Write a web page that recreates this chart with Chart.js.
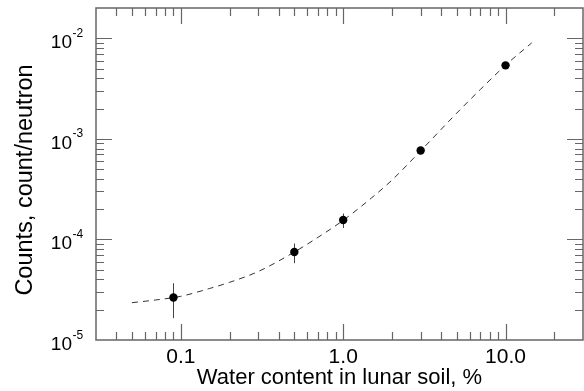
<!DOCTYPE html>
<html>
<head>
<meta charset="utf-8">
<script src="https://cdn.jsdelivr.net/npm/chart.js@4/dist/chart.umd.min.js"></script>
<style>
  html, body { margin: 0; padding: 0; background: #fff; }
  #wrap { width: 584px; height: 391px; }
</style>
</head>
<body>
<div id="wrap"><canvas id="chart"></canvas></div>
<script>
// measured points (water %, counts/neutron) with error bars
const measX = [0.09, 0.5, 1.0, 3.0, 10.0];
const measY = [2.65e-5, 7.5e-5, 1.56e-4, 7.65e-4, 5.38e-3];
const errLow = [1.65e-5, 5.8e-5, 1.3e-4, null, null];
const errHigh = [3.67e-5, 9.1e-5, 1.81e-4, null, null];

// dashed model curve
const fitX = [0.05, 0.07, 0.1, 0.15, 0.2, 0.3, 0.5, 0.7, 1.0, 1.5, 2.0, 3.0, 5.0, 7.0, 10.0, 14.5];
const fitY = [2.35e-5, 2.5e-5, 2.72e-5, 3.25e-5, 3.75e-5, 4.8e-5, 7.5e-5, 1.05e-4, 1.55e-4, 2.6e-4, 3.9e-4, 7.6e-4, 1.8e-3, 3.1e-3, 5.4e-3, 9.0e-3];

const xTickValues = [0.1, 1, 10];
const xTickLabels = ['0.1', '1.0', '10.0'];
const yTickExps = [-5, -4, -3, -2];
const yTitle = 'Counts, count/neutron';

const FONT = '"Liberation Sans", Arial, Helvetica, sans-serif';
const FRAME = '#666';

function decadeTicks(min, max) {
  const major = [], minor = [];
  for (let d = Math.floor(Math.log10(min)); d <= Math.ceil(Math.log10(max)); d++) {
    for (let k = 1; k <= 9; k++) {
      const v = k * Math.pow(10, d);
      if (v <= min * 1.0001 || v >= max * 0.9999) continue;
      (k === 1 ? major : minor).push(v);
    }
  }
  return { major, minor };
}

// box + inward ticks on all four sides, tick labels
const frame = {
  id: 'frame',
  afterDraw(chart) {
    const { ctx, chartArea: a, scales: { x, y } } = chart;
    ctx.save();
    ctx.strokeStyle = FRAME;
    ctx.lineWidth = 1.5;
    ctx.strokeRect(a.left, a.top, a.right - a.left, a.bottom - a.top);
    ctx.lineWidth = 1.2;
    ctx.beginPath();
    const xt = decadeTicks(x.min, x.max);
    const tickX = (vals, len) => vals.forEach(v => {
      const px = Math.round(x.getPixelForValue(v)) + 0.5;
      ctx.moveTo(px, a.bottom); ctx.lineTo(px, a.bottom - len);
      ctx.moveTo(px, a.top); ctx.lineTo(px, a.top + len);
    });
    tickX(xt.major, 16); tickX(xt.minor, 8);
    const yt = decadeTicks(y.min, y.max);
    const tickY = (vals, len) => vals.forEach(v => {
      const py = Math.round(y.getPixelForValue(v)) + 0.5;
      ctx.moveTo(a.left, py); ctx.lineTo(a.left + len, py);
      ctx.moveTo(a.right, py); ctx.lineTo(a.right - len, py);
    });
    tickY(yt.major, 16); tickY(yt.minor, 8);
    ctx.stroke();

    ctx.fillStyle = '#000';
    // y tick labels: 10 with superscript exponent
    yTickExps.forEach(e => {
      const py = y.getPixelForValue(Math.pow(10, e));
      ctx.font = '19px ' + FONT;
      ctx.textAlign = 'right';
      ctx.textBaseline = 'alphabetic';
      ctx.fillText('10', 72, py + 10);
      ctx.font = '12px ' + FONT;
      ctx.textAlign = 'left';
      ctx.fillText('-' + Math.abs(e), 72.5, py - 1.5);
    });
    // x tick labels
    ctx.font = '21px ' + FONT;
    ctx.textAlign = 'center';
    xTickValues.forEach((v, i) => {
      ctx.fillText(xTickLabels[i], x.getPixelForValue(v), a.bottom + 23);
    });
    // y axis title
    ctx.translate(25.5, (a.top + a.bottom) / 2 + 6);
    ctx.rotate(-Math.PI / 2);
    ctx.font = '23.5px ' + FONT;
    ctx.textAlign = 'center';
    ctx.textBaseline = 'middle';
    ctx.fillText(yTitle, 0, 0);
    ctx.restore();
  }
};

const errorBars = {
  id: 'errorBars',
  beforeDatasetsDraw(chart) {
    const { ctx, scales: { x, y } } = chart;
    ctx.save();
    ctx.strokeStyle = '#444';
    ctx.lineWidth = 1;
    ctx.beginPath();
    measX.forEach((v, i) => {
      if (errLow[i] == null) return;
      const px = Math.round(x.getPixelForValue(v)) + 0.5;
      ctx.moveTo(px, y.getPixelForValue(errLow[i]));
      ctx.lineTo(px, y.getPixelForValue(errHigh[i]));
    });
    ctx.stroke();
    ctx.restore();
  }
};

new Chart(document.getElementById('chart'), {
  type: 'scatter',
  data: {
    datasets: [
      {
        type: 'line',
        data: fitX.map((v, i) => ({ x: v, y: fitY[i] })),
        borderColor: '#333',
        borderWidth: 1,
        borderDash: [6, 5],
        pointRadius: 0,
        cubicInterpolationMode: 'monotone',
        fill: false,
        order: 2
      },
      {
        data: measX.map((v, i) => ({ x: v, y: measY[i] })),
        backgroundColor: '#000',
        borderWidth: 0,
        pointRadius: 4.2,
        order: 1
      }
    ]
  },
  options: {
    responsive: true,
    maintainAspectRatio: false,
    animation: false,
    devicePixelRatio: 1,
    layout: { autoPadding: false, padding: { top: 8, right: 1, left: 0, bottom: 0 } },
    plugins: { legend: { display: false }, tooltip: { enabled: false } },
    scales: {
      x: {
        type: 'logarithmic',
        min: 0.03,
        max: 30,
        grid: { display: false },
        border: { display: false },
        afterFit: s => { s.height = 51; },
        ticks: { display: false },
        title: {
          display: true,
          text: 'Water content in lunar soil, %',
          color: '#000',
          font: { family: FONT, size: 22 },
          padding: { top: 0, bottom: 0 }
        }
      },
      y: {
        type: 'logarithmic',
        min: 1e-5,
        max: 2e-2,
        grid: { display: false },
        border: { display: false },
        afterFit: s => { s.width = 96; },
        ticks: { display: false },
        title: { display: false }
      }
    }
  },
  plugins: [errorBars, frame]
});
</script>
</body>
</html>
